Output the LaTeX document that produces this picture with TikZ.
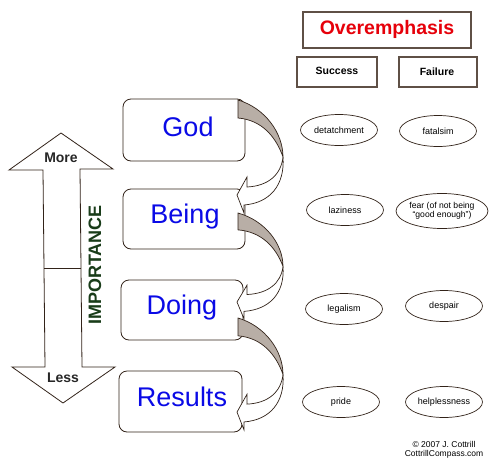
\documentclass[tikz,border=0pt]{standalone}
\usepackage{fontspec}
\setmainfont{Liberation Sans}
\usetikzlibrary{shapes.geometric}
\definecolor{edge}{RGB}{50,35,25}
\definecolor{boxedge}{RGB}{95,80,70}
\definecolor{bandgray}{RGB}{184,174,166}
\definecolor{wordblue}{RGB}{10,10,230}
\definecolor{wordred}{RGB}{230,0,10}
\definecolor{impgreen}{RGB}{25,60,25}
\tikzset{
  levelbox/.style={draw=edge, line width=0.8pt, rounded corners=8pt, fill=white},
  leveltext/.style={text=wordblue, font=\fontsize{27}{30}\selectfont, inner sep=0pt},
  headbox/.style={draw=boxedge, line width=1.1pt, inner sep=0pt},
  oval/.style={draw=edge, line width=0.7pt, ellipse, minimum width=77pt, minimum height=31pt, inner sep=0pt, font=\fontsize{9}{10}\selectfont, align=center},
  bandpart/.style={fill=bandgray, draw=edge, line width=0.7pt},
  frontpart/.style={fill=white, draw=edge, line width=0.7pt},
  dblarrow/.style={draw=edge, line width=0.8pt, fill=white}
}
\newcommand{\curvarr}{%
  \path[bandpart] (238,0) .. controls (265,8) and (283,33) .. (283,57)
     .. controls (276,37) and (262,20) .. (238,18) -- cycle;
  \path[frontpart] (283,57) .. controls (285,85) and (270,103) .. (244,105)
     -- (244,113) -- (237,95) -- (247,77) -- (247,87)
     .. controls (268,86) and (281,75) .. (283,57) -- cycle;
}
\begin{document}
\begin{tikzpicture}[x=1pt,y=-1pt]
\useasboundingbox (0,0) rectangle (500,471);
\fill[white] (0,0) rectangle (500,471);

% importance double arrow
\path[dblarrow] (61,133) -- (113,169) -- (80,169) -- (82,367) -- (115,367)
  -- (63,403) -- (12,367) -- (45,367) -- (43,170) -- (9,170) -- cycle;
\coordinate (midl) at (44,268);
\coordinate (midr) at (81,268);
\draw[edge, line width=0.8pt] (midl) -- (midr);
\node[font=\bfseries\fontsize{14}{16}\selectfont, text=black!85] (more) at (61,158) {More};
\node[font=\bfseries\fontsize{14}{16}\selectfont, text=black!85] (less) at (63,378) {Less};
\node[font=\bfseries\fontsize{18}{20}\selectfont, text=impgreen, rotate=90] (imp) at (95,265) {IMPORTANCE};

% level boxes
\path[levelbox] (123,99) rectangle (245,161);
\path[levelbox] (123,189) rectangle (245,249);
\path[levelbox] (121,280) rectangle (243,340);
\path[levelbox] (119,371) rectangle (242,432);
\node[leveltext] (god) at (188,127) {God};
\node[leveltext] (being) at (185,217) {Being};
\node[leveltext] (doing) at (182,308) {Doing};
\node[leveltext] (results) at (182,397) {Results};

% curved arrows
\begin{scope}[shift={(0,100)}]\curvarr\end{scope}
\begin{scope}[shift={(0,213)}, yscale=0.937]\curvarr\end{scope}
\begin{scope}[shift={(0,318)}, yscale=0.99]\curvarr\end{scope}

% header boxes
\draw[headbox] (303,12) rectangle (471,48);
\node[text=wordred, font=\bfseries\fontsize{19.5}{22}\selectfont] (over) at (387,29) {Overemphasis};
\draw[headbox] (297,57) rectangle (377,87);
\node[font=\bfseries\fontsize{10.5}{12}\selectfont] (succ) at (337,71) {Success};
\draw[headbox] (399,57) rectangle (477,87);
\node[font=\bfseries\fontsize{10.5}{12}\selectfont] (fail) at (437,72) {Failure};

% ovals
\node[oval] (detach) at (339,130) {detatchment};
\node[oval] (fatal) at (438,131) {fatalsim};
\node[oval] (lazy) at (345,210) {laziness};
\node[oval, minimum width=82pt, minimum height=35pt, font=\fontsize{8.6}{9.5}\selectfont] (fear) at (442,211) {fear (of not being\\``good enough'')};
\node[oval] (legal) at (344,309) {legalism};
\node[oval] (desp) at (444,306) {despair};
\node[oval] (pride) at (341,402) {pride};
\node[oval] (help) at (444,402) {helplessness};

% copyright
\node[font=\fontsize{8.5}{9}\selectfont, align=center, inner sep=0pt] (copy) at (444,449.5) {© 2007 J. Cottrill\\CottrillCompass.com};
\end{tikzpicture}
\end{document}
